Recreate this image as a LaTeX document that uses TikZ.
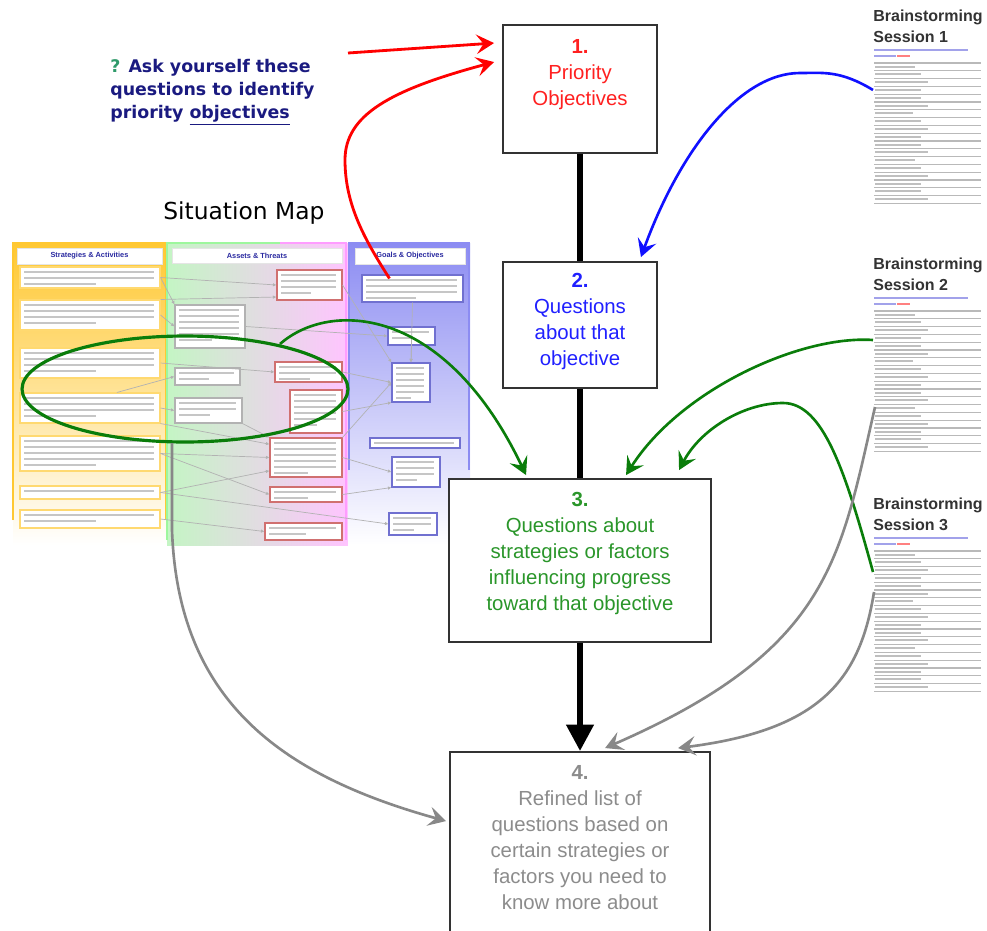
\documentclass[tikz,border=0pt]{standalone}
\usepackage{fontspec}
\setmainfont{Liberation Sans}
\newfontfamily\askfont{DejaVu Sans}
\usetikzlibrary{arrows.meta,calc,fit,shapes.geometric}

% palette
\definecolor{boxline}{HTML}{333333}
\definecolor{asknavy}{HTML}{1A1A80}
\definecolor{askgreen}{HTML}{2F9A6A}
\definecolor{objred}{HTML}{FF2020}
\definecolor{qblue}{HTML}{2020FF}
\definecolor{qgreen}{HTML}{2A962A}
\definecolor{refgray}{HTML}{8C8C8C}
\definecolor{arrowred}{HTML}{FF0000}
\definecolor{arrowblue}{HTML}{1010FF}
\definecolor{arrowgreen}{HTML}{0A7D0A}
\definecolor{arrowgray}{HTML}{888888}
\definecolor{stratorange}{HTML}{FFC832}
\definecolor{stratline}{HTML}{FFD970}
\definecolor{assetgreen}{HTML}{C4F5C4}
\definecolor{assetpink}{HTML}{FFC4FF}
\definecolor{threatline}{HTML}{D07070}
\definecolor{goalblue}{HTML}{8C8CF2}
\definecolor{goalline}{HTML}{7070D0}
\definecolor{headblue}{HTML}{2A2AA0}
\definecolor{sessblue}{HTML}{3030D0}

\tikzset{
  stepbox/.style={draw=boxline, line width=1.1pt, fill=white, inner sep=0pt},
  steptext/.style={anchor=north, align=center, inner sep=0pt,
    font=\fontsize{11.6}{14.8}\selectfont},
  flow/.style={draw=black, line width=3.4pt},
  headtip/.style={-{Stealth[length=10pt,width=11pt,inset=4pt]}},
  redarrow/.style={headtip, draw=arrowred, line width=1.6pt},
  bluearrow/.style={headtip, draw=arrowblue, line width=1.5pt},
  greenarrow/.style={headtip, draw=arrowgreen, line width=1.5pt},
  grayarrow/.style={headtip, draw=arrowgray, line width=1.5pt},
  mapbx/.style={fill=white, inner sep=0pt, line width=0.6pt},
  maptext/.style={draw=gray!45, line width=0.9pt},
  maplink/.style={draw=gray!60, line width=0.4pt, -{Latex[length=2pt,width=2pt]}},
  maphead/.style={fill=white, draw=white!90!black, line width=0.3pt, inner sep=0pt,
    text=headblue, font=\fontsize{4.2}{5}\selectfont\bfseries},
  sesstitle/.style={anchor=north west, inner sep=0pt, align=left,
    font=\fontsize{9.1}{11.9}\selectfont\bfseries, text=black!80},
  sessrule/.style={draw=gray!55, line width=0.6pt},
  sesstext/.style={draw=gray!50, line width=1.2pt},
  sessnote/.style={draw=sessblue!45, line width=0.9pt},
}

% a small box of the situation map, with grey strokes for its fine print
\newcommand\mapcell[6]{%
  \node[mapbx, draw=#6, fit={(#2,#3) (#4,#5)}] (#1) {};
  \pgfmathtruncatemacro\mapnl{max(1,floor((#5-#3-2)/6))}%
  \foreach \ii in {1,...,\mapnl}{%
    \pgfmathsetmacro\mapll{(\ii==\mapnl && \mapnl>1) ? 0.55*(#4-#2-10) : (#4-#2-10)}%
    \draw[maptext] (#2+4,#3+\ii*6-1) -- ++(\mapll,0);
  }%
}

\begin{document}
\begin{tikzpicture}[x=0.02cm, y=-0.02cm]
\useasboundingbox (0,0) rectangle (987,930);
\fill[white] (0,0) rectangle (987,930);
\clip (0,0) rectangle (987,930);

% ---------- heading ----------
\node[anchor=north west, inner sep=0pt, align=left, text=asknavy,
  font=\askfont\fontsize{9.9}{13}\selectfont\bfseries] (ask) at (110,59)
  {\textcolor{askgreen}{?} Ask yourself these\\questions to identify\\priority \underline{objectives}};

% ---------- situation map ----------
\node[anchor=base west, inner sep=0pt, font=\askfont\fontsize{13.3}{16}\selectfont,
  text=black] (sitmap) at (163,219) {Situation Map};

\shade[top color=stratorange, middle color=stratorange!55, bottom color=white]
  (13,243) rectangle (166,545);
\shade[left color=assetgreen, middle color=black!8, right color=assetpink]
  (167,243) rectangle (348,545);
\shade[top color=goalblue, middle color=goalblue!45, bottom color=white]
  (348,243) rectangle (470,545);
\draw[stratorange, line width=1.4pt] (13,520) -- (13,243) -- (166,243) -- (166,520);
\draw[assetgreen!80!green, line width=1.2pt] (167,540) -- (167,243) -- (280,243);
\draw[assetpink!80!magenta, line width=1.2pt] (280,243) -- (346,243) -- (346,540);
\draw[goalblue, line width=1.2pt] (349,470) -- (349,243) -- (469,243) -- (469,470);

\node[maphead, minimum width=2.9cm, minimum height=0.32cm] (h1) at (89.5,256) {Strategies \& Activities};
\node[maphead, minimum width=3.4cm, minimum height=0.30cm] (h2) at (257,255.5) {Assets \& Threats};
\node[maphead, minimum width=2.2cm, minimum height=0.32cm] (h3) at (410,256) {Goals \& Objectives};

\mapcell{a1}{20}{267}{160}{288}{stratline}
\mapcell{a2}{20}{300}{160}{330}{stratline}
\mapcell{a3}{20}{348}{160}{378}{stratline}
\mapcell{a4}{20}{393}{160}{423}{stratline}
\mapcell{a5}{20}{436}{160}{471}{stratline}
\mapcell{a6}{20}{486}{160}{499}{stratline}
\mapcell{a7}{20}{510}{160}{528}{stratline}

\mapcell{b1}{175}{305}{245}{348}{gray!60}
\mapcell{b2}{175}{368}{240}{385}{gray!60}
\mapcell{b3}{175}{398}{242}{423}{gray!60}

\mapcell{c1}{277}{270}{342}{300}{threatline}
\mapcell{c2}{275}{362}{342}{382}{threatline}
\mapcell{c3}{290}{390}{342}{433}{threatline}
\mapcell{c4}{270}{438}{342}{477}{threatline}
\mapcell{c5}{270}{487}{342}{502}{threatline}
\mapcell{c6}{265}{523}{342}{540}{threatline}

\mapcell{d1}{362}{275}{463}{302}{goalline}
\mapcell{d2}{388}{327}{435}{345}{goalline}
\mapcell{d3}{392}{363}{430}{402}{goalline}
\mapcell{d4}{370}{438}{460}{448}{goalline}
\mapcell{d5}{392}{457}{440}{487}{goalline}
\mapcell{d6}{389}{513}{437}{535}{goalline}

% links of the situation map
\draw[maplink] (a1.east) -- (b1.north west);
\draw[maplink] (a1.east) -- (c1.west);
\draw[maplink] (a2.north east) -- (c1.200);
\draw[maplink] (a2.east) -- (b1.west);
\draw[maplink] (b1.east) -- (d2.west);
\draw[maplink] (a3.east) -- (c2.west);
\draw[maplink] (a4.30) -- (b2.west);
\draw[maplink] (a4.east) -- (b3.west);
\draw[maplink] (a4.south east) -- (c4.160);
\draw[maplink] (b3.south east) -- (c4.north west);
\draw[maplink] (a5.east) -- (c4.180);
\draw[maplink] (a5.east) -- (c5.west);
\draw[maplink] (a6.east) -- (c4.200);
\draw[maplink] (a6.east) -- (d6.west);
\draw[maplink] (a7.east) -- (c6.west);
\draw[maplink] (c1.east) -- (d3.north west);
\draw[maplink] (c2.east) -- (d3.west);
\draw[maplink] (c3.east) -- (d3.south west);
\draw[maplink] (c4.north east) -- (d3.west);
\draw[maplink] (c4.east) -- (d5.west);
\draw[maplink] (c5.east) -- (d5.south west);
\draw[maplink] (d1.south) -- (d3.north);
\draw[maplink] (d2.south) -- (d3.north);

% the highlighted group of strategies
\node[draw=arrowgreen, line width=1.8pt, ellipse, inner sep=0pt,
  minimum width=6.52cm, minimum height=2.12cm] (ell) at (185,389) {};

% ---------- the four steps ----------
\node[stepbox, minimum width=3.08cm, minimum height=2.56cm] (box1) at (580,89) {};
\node[steptext, text=objred] (t1) at (580,39) {\textbf{1.}\\Priority\\Objectives};

\node[stepbox, minimum width=3.08cm, minimum height=2.52cm] (box2) at (580,325) {};
\node[steptext, text=qblue] (t2) at (580,273) {\textbf{2.}\\Questions\\about that\\objective};

\node[stepbox, minimum width=5.24cm, minimum height=3.26cm] (box3) at (580,560.5) {};
\node[steptext, text=qgreen] (t3) at (580,492)
  {\textbf{3.}\\Questions about\\strategies or factors\\influencing progress\\toward that objective};

\node[stepbox, minimum width=5.2cm, minimum height=4.16cm] (box4) at (580,856) {};
\node[steptext, text=refgray] (t4) at (580,765)
  {\textbf{4.}\\Refined list of\\questions based on\\certain strategies or\\factors you need to\\know more about};

\draw[flow] (box1.south) -- (box2.north);
\draw[flow] (box2.south) -- (box3.north);
\draw[flow, -{Triangle[length=15pt,width=15pt]}] (box3.south) -- (box4.north);

% ---------- brainstorming sessions ----------
\foreach \k/\dy in {1/0,2/248,3/488}{
  \begin{scope}[shift={(0,\dy)}]
    \node[sesstitle] (s\k) at (873,10) {Brainstorming\\Session \k};
    \draw[sessnote] (874,50) -- (968,50);
    \draw[sessnote] (874,56) -- (896,56);
    \draw[draw=red!50, line width=0.9pt] (897,56) -- (910,56);
    \foreach \len [count=\i from 0] in {40,46,53,46,46,53,38,46,53,46,46,53,40,46,53,46,46,53}{
      \draw[sessrule] (874,63+\i*7.8) -- (981,63+\i*7.8);
      \draw[sesstext] (875,66.6+\i*7.8) -- ++(\len,0);
    }
    \draw[sessrule] (874,63+18*7.8) -- (981,63+18*7.8);
  \end{scope}
}

% ---------- connectors ----------
\coordinate (redfree) at (348,53);
\draw[redarrow] (redfree) -- ($(box1.north west)+(-8,19)$);
\draw[redarrow] ($(d1.north west)+(28,4)$) .. controls (365,240) and (345,205) .. (345,160)
  .. controls (345,115) and (390,90) .. ($(box1.north west)+(-8,38)$);

\coordinate (s1port) at (873,90);
\draw[bluearrow] (s1port) .. controls (840,70) and (823,73) .. (800,73)
  .. controls (740,73) and (680,150) .. ($(box2.north east)+(-17,-4)$);

\draw[greenarrow] ($(ell.center)+(95,-45)$) .. controls (330,300) and (445,305)
  .. ($(box3.north west)+(78,-3)$);
\coordinate (s2port) at (873,340);
\draw[greenarrow] (s2port) .. controls (800,335) and (680,390) .. ($(box3.north west)+(178,-3)$);
\coordinate (s3port) at (873,572);
\draw[greenarrow] (s3port) .. controls (845,470) and (823,403) .. (783,403)
  .. controls (743,403) and (700,430) .. ($(box3.north west)+(231,-8)$);

\coordinate (s2low) at (875,407);
\draw[grayarrow] (s2low) .. controls (840,560) and (830,650) .. ($(box4.north west)+(156,-3)$);
\coordinate (s3low) at (874,592);
\draw[grayarrow] (s3low) .. controls (860,680) and (820,730) .. ($(box4.north west)+(229,-3)$);
\coordinate (mapport) at (172,443);
\draw[grayarrow] (mapport) -- (172,530) .. controls (178,700) and (280,775)
  .. ($(box4.north west)+(-3,70)$);
\end{tikzpicture}
\end{document}
